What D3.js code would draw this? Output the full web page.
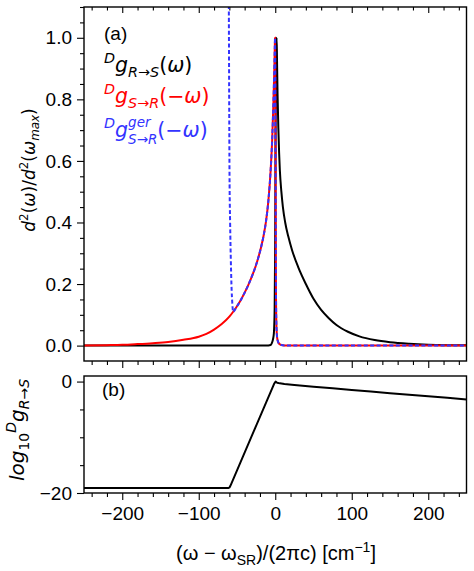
<!DOCTYPE html>
<html><head><meta charset="utf-8">
<script src="https://cdn.jsdelivr.net/npm/d3@7"></script>
<style>
body{margin:0;background:#fff}
svg{display:block}
text{font-family:"Liberation Sans",Arial,sans-serif}
</style>
</head><body>
<svg id="c" width="474" height="571"></svg>
<script>
// ---- data ----
const blackOmega = [-250,-100,-20,-12,-6,-4.5,-3,-1.8,-0.8,-0.2,0.3,0.8,1.3,1.8,2.3,3,4,5,6,8,10,13,17,22,30,40,50,60,70,80,95,110,130,150,175,200,225,250];
const blackValue = [0,0,0,0,0.002,0.008,0.02,0.04,0.12,0.3,0.6,0.85,0.97,1.0,0.93,0.82,0.71,0.63,0.57,0.5,0.45,0.40,0.355,0.31,0.255,0.2,0.152,0.116,0.089,0.067,0.045,0.03,0.018,0.011,0.006,0.003,0.0015,0.0008];

const redOmega = [-250,-220,-200,-180,-160,-140,-120,-100,-90,-80,-70,-60,-55,-50,-45,-40,-35,-30,-26,-22,-18,-15,-12,-9,-6,-4,-2.5,-1.4,-0.6,-0.3,0.1,0.5,0.9,1.4,2,3,5,8,12,20,250];
const redValue = [0.0005,0.0015,0.0025,0.005,0.008,0.012,0.019,0.029,0.038,0.052,0.07,0.094,0.11,0.128,0.148,0.172,0.198,0.228,0.255,0.287,0.325,0.36,0.405,0.47,0.57,0.67,0.78,0.88,0.97,1.0,0.85,0.5,0.2,0.08,0.04,0.018,0.006,0.002,0.0005,0,0];

// the "ger" curve leaves the red one below about -55 cm^-1 and shoots off the top
const blueHeadOmega = [-62,-60.7,-59.8,-59,-58,-57,-56.2];
const blueHeadValue = [2.0,1.12,0.56,0.4,0.27,0.18,0.14];

const logOmega = [-250,-61,-59.8,-58.8,-57.5,-1.5,0.5,2.5,6,12,25,50,75,100,125,150,175,200,225,250];
const logValue = [-19.1,-19.1,-19.0,-18.75,-18.35,-0.4,0,-0.2,-0.32,-0.45,-0.62,-0.93,-1.22,-1.5,-1.8,-2.08,-2.35,-2.63,-2.9,-3.2];

const xMajor = [-200,-100,0,100,200];
const y1Major = [0,0.2,0.4,0.6,0.8,1.0];
const y2Major = [-20,0];

// ---- layout ----
const L=84, R=466.5, T1=7, B1=361, T2=376, B2=493;
const FS = 19;
const MATH = '"DejaVu Sans",sans-serif';
const svg = d3.select('#c');

const x = d3.scaleLinear().domain([-250,250]).range([L,R]);
const y1 = d3.scaleLinear().domain([-0.05,1.1]).range([B1,T1]);
const y2 = d3.scaleLinear().domain([-20,1]).range([B2,T2]);

const xMinor = d3.range(-240,241,20).filter(v => v % 100 !== 0);
const y1Minor = d3.range(0,1.11,0.05).map(v=>+v.toFixed(2)).filter(v => Math.round(v*100) % 20 !== 0);
const y2Minor = [-15,-10,-5];

const pts = (o,v) => o.map((w,i)=>[w,v[i]]);
const black = pts(blackOmega, blackValue);
const red = pts(redOmega, redValue);
const blue = pts(blueHeadOmega, blueHeadValue).concat(red.filter(d => d[0] >= -55));
const logc = pts(logOmega, logValue);

const defs = svg.append('defs');
defs.append('clipPath').attr('id','clipA').append('rect').attr('x',L).attr('y',T1).attr('width',R-L).attr('height',B1-T1);
defs.append('clipPath').attr('id','clipB').append('rect').attr('x',L).attr('y',T2).attr('width',R-L).attr('height',B2-T2);

function styleAxis(g){
  g.select('path.domain').remove();
  g.selectAll('.tick line').attr('stroke','#000').attr('stroke-width',1.1);
  g.selectAll('.tick text').attr('font-size',FS).attr('fill','#000').style('font-family','"Liberation Sans",Arial,sans-serif');
}
function addAxis(axis, tx, ty){
  const g = svg.append('g').attr('transform',`translate(${tx},${ty})`).call(axis);
  styleAxis(g);
  return g;
}

// ---- panel (a) axes ----
addAxis(d3.axisLeft(y1).tickValues(y1Major).tickSize(7).tickPadding(5).tickFormat(d3.format('.1f')), L, 0);
addAxis(d3.axisLeft(y1).tickValues(y1Minor).tickSize(4).tickFormat(''), L, 0);
addAxis(d3.axisBottom(x).tickValues(xMajor).tickSize(7).tickFormat(''), 0, B1);
addAxis(d3.axisBottom(x).tickValues(xMinor).tickSize(4).tickFormat(''), 0, B1);
addAxis(d3.axisBottom(x).tickValues(xMajor).tickSize(6).tickFormat(''), 0, T1);
addAxis(d3.axisBottom(x).tickValues(xMinor).tickSize(3.5).tickFormat(''), 0, T1);

// ---- panel (b) axes ----
addAxis(d3.axisLeft(y2).tickValues(y2Major).tickSize(7).tickPadding(5).tickFormat(d3.format('d')), L, 0);
addAxis(d3.axisLeft(y2).tickValues(y2Minor).tickSize(4).tickFormat(''), L, 0);
addAxis(d3.axisBottom(x).tickValues(xMajor).tickSize(7).tickPadding(7).tickFormat(d3.format('d')), 0, B2);
addAxis(d3.axisBottom(x).tickValues(xMinor).tickSize(4).tickFormat(''), 0, B2);

// ---- curves ----
const lineA = d3.line().x(d=>x(d[0])).y(d=>y1(d[1])).curve(d3.curveMonotoneX);
const lineB = d3.line().x(d=>x(d[0])).y(d=>y2(d[1]));
const ga = svg.append('g').attr('clip-path','url(#clipA)');
ga.append('path').datum(black).attr('d',lineA).attr('fill','none').attr('stroke','#000').attr('stroke-width',2);
ga.append('path').datum(red).attr('d',lineA).attr('fill','none').attr('stroke','#ff0000').attr('stroke-width',2);
ga.append('path').datum(blue).attr('d',lineA).attr('fill','none').attr('stroke','#3333ff').attr('stroke-width',2).attr('stroke-dasharray','4,2.4');
const gb = svg.append('g').attr('clip-path','url(#clipB)');
gb.append('path').datum(logc).attr('d',lineB).attr('fill','none').attr('stroke','#000').attr('stroke-width',2).attr('stroke-linejoin','round');

svg.append('rect').attr('x',L).attr('y',T1).attr('width',R-L).attr('height',B1-T1).attr('fill','none').attr('stroke','#000').attr('stroke-width',1.4);
svg.append('rect').attr('x',L).attr('y',T2).attr('width',R-L).attr('height',B2-T2).attr('fill','none').attr('stroke','#000').attr('stroke-width',1.4);

// ---- math-like text helper (sequential glyph runs, measured in the browser) ----
function math(parent, segs, F, family){
  const f = F*0.7;
  let cx = 0;
  segs.forEach(s => {
    if (s.k === 'stack') {
      const fs = F*0.66;
      const a = parent.append('text').attr('x',cx).attr('y',-0.47*F).attr('font-size',fs)
        .style('font-family',family).style('font-style','italic').text(s.top);
      const b = parent.append('text').attr('x',cx).attr('y',0.32*F).attr('font-size',fs)
        .style('font-family',family).style('font-style','italic').text(s.bot);
      cx += Math.max(a.node().getComputedTextLength(), b.node().getComputedTextLength());
      return;
    }
    const size = s.k==='n' ? F : f;
    const dy = s.k==='sup' ? -0.42*F : (s.k==='sub' ? 0.26*F : 0);
    const t = parent.append('text').attr('x',cx).attr('y',dy).attr('font-size',size)
      .style('font-family',family).style('font-style', s.i ? 'italic' : 'normal').text(s.t);
    cx += t.node().getComputedTextLength();
  });
  return cx;
}
const N=(t,i)=>({t,k:'n',i}), SUP=(t,i)=>({t,k:'sup',i}), SUB=(t,i)=>({t,k:'sub',i});

// panel labels
svg.append('text').attr('x',104).attr('y',40).attr('font-size',FS).text('(a)');
svg.append('text').attr('x',102).attr('y',396).attr('font-size',FS).text('(b)');

// legend texts
const LF = 20.5;
const l1 = svg.append('g').attr('transform','translate(104,71.5)').attr('fill','#000');
math(l1,[SUP('D',1),N('g',1),SUB('R',1),SUB('→'),SUB('S',1),N('('),N('ω',1),N(')')],LF,MATH);
const l2 = svg.append('g').attr('transform','translate(104,102.5)').attr('fill','#ff0000');
math(l2,[SUP('D',1),N('g',1),SUB('S',1),SUB('→'),SUB('R',1),N('(−'),N('ω',1),N(')')],LF,MATH);
const l3 = svg.append('g').attr('transform','translate(104,137)').attr('fill','#3333ff');
math(l3,[SUP('D',1),N('g',1),{k:'stack',top:'ger',bot:'S→R'},N('(−'),N('ω',1),N(')')],LF,MATH);

// y label (a)
const ya = svg.append('g').attr('fill','#000');
const yaIn = ya.append('g');
const wa = math(yaIn,[N('d',1),SUP('2'),N('('),N('ω',1),N(')/'),N('d',1),SUP('2'),N('('),N('ω',1),SUB('max',1),N(')')],17,MATH);
ya.attr('transform','translate(35,170) rotate(-90)');
yaIn.attr('transform',`translate(${-wa/2},0)`);

// y label (b)
const yb = svg.append('g').attr('fill','#000');
const ybIn = yb.append('g');
const wb = math(ybIn,[N('log',1),SUB('10'),SUP('D',1),N('g',1),SUB('R',1),SUB('→'),SUB('S',1)],20,MATH);
yb.attr('transform','translate(24,430) rotate(-90)');
ybIn.attr('transform',`translate(${-wb/2},0)`);

// x label
const xl = svg.append('g').attr('fill','#000');
const xlIn = xl.append('g');
const wx = math(xlIn,[N('(ω − ω'),SUB('SR'),N(')/(2πc) [cm'),SUP('−1'),N(']')],20,'"Liberation Sans",Arial,sans-serif');
xl.attr('transform','translate(276,560)');
xlIn.attr('transform',`translate(${-wx/2},0)`);
</script>
</body></html>
